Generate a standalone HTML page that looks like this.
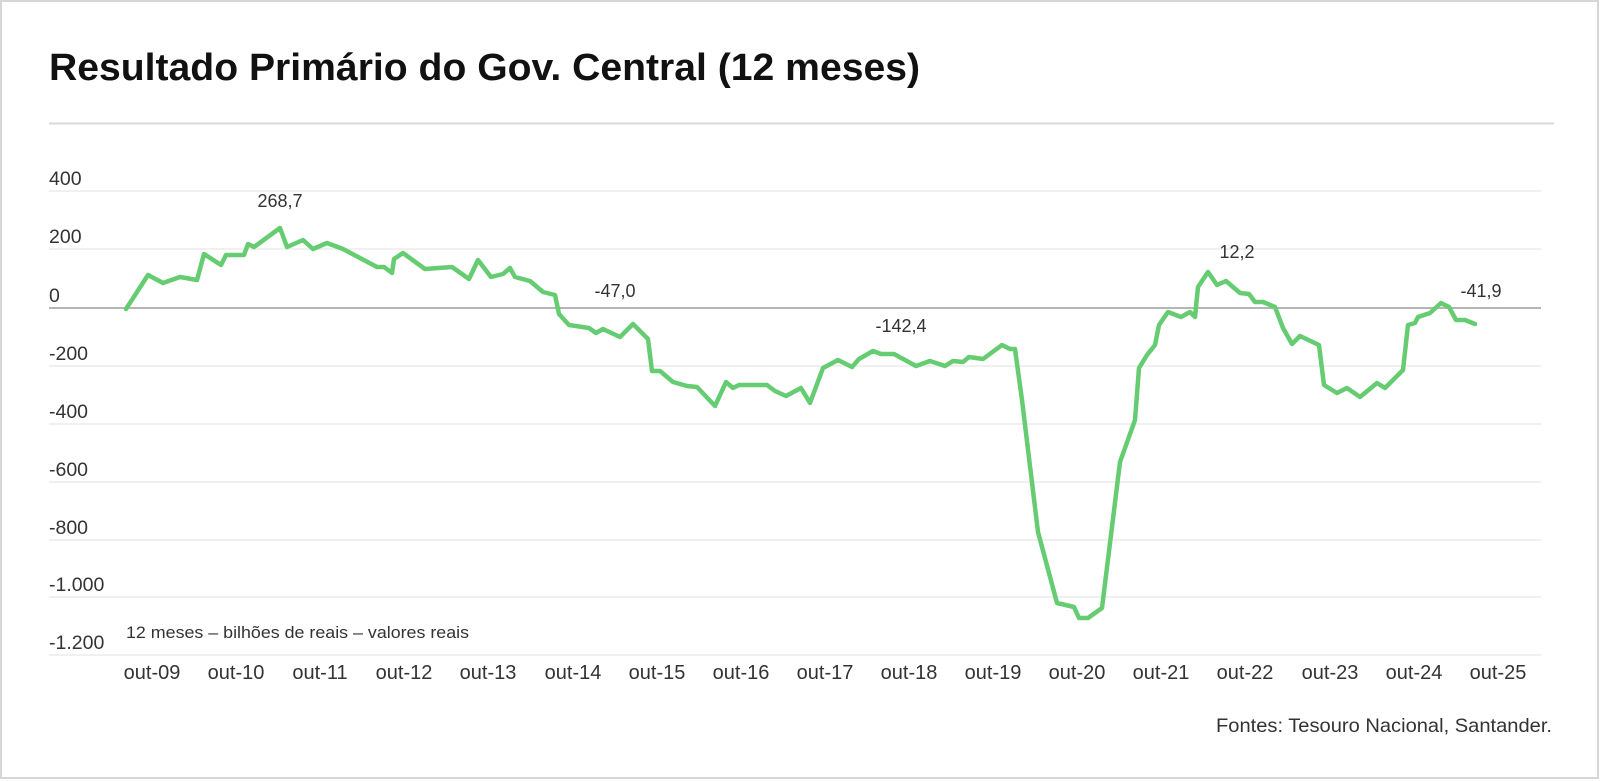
<!DOCTYPE html>
<html><head><meta charset="utf-8"><style>
html,body{margin:0;padding:0;background:#fff;}
svg{display:block;}
text{font-family:"Liberation Sans",sans-serif;}
</style></head><body>
<svg width="1600" height="781" viewBox="0 0 1600 781" xmlns="http://www.w3.org/2000/svg">
<rect x="1" y="1" width="1597" height="777" fill="#fff" stroke="#d6d6d6" stroke-width="2"/>
<text x="49" y="80" font-size="38" font-weight="bold" fill="#111" textLength="871" lengthAdjust="spacingAndGlyphs">Resultado Primário do Gov. Central (12 meses)</text>
<line x1="49" y1="123.5" x2="1554" y2="123.5" stroke="#d9d9d9" stroke-width="2"/>
<g stroke="#ebebeb" stroke-width="1.5">
<line x1="49" y1="191" x2="1541" y2="191"/>
<line x1="49" y1="249" x2="1541" y2="249"/>
<line x1="49" y1="366" x2="1541" y2="366"/>
<line x1="49" y1="424" x2="1541" y2="424"/>
<line x1="49" y1="482" x2="1541" y2="482"/>
<line x1="49" y1="540" x2="1541" y2="540"/>
<line x1="49" y1="597" x2="1541" y2="597"/>
<line x1="49" y1="655" x2="1541" y2="655"/>
</g>
<line x1="49" y1="308" x2="1541" y2="308" stroke="#b5b5b5" stroke-width="2"/>
<g font-size="19.5" fill="#333">
<text x="49" y="185">400</text>
<text x="49" y="243">200</text>
<text x="49" y="302">0</text>
<text x="49" y="360">-200</text>
<text x="49" y="418">-400</text>
<text x="49" y="476">-600</text>
<text x="49" y="534">-800</text>
<text x="49" y="591">-1.000</text>
<text x="49" y="649">-1.200</text>
</g>
<text x="126" y="638" font-size="17" fill="#333" textLength="343" lengthAdjust="spacingAndGlyphs">12 meses – bilhões de reais – valores reais</text>
<g font-size="20" fill="#333" text-anchor="middle">
<text x="152" y="679">out-09</text>
<text x="236" y="679">out-10</text>
<text x="320" y="679">out-11</text>
<text x="404" y="679">out-12</text>
<text x="488" y="679">out-13</text>
<text x="573" y="679">out-14</text>
<text x="657" y="679">out-15</text>
<text x="741" y="679">out-16</text>
<text x="825" y="679">out-17</text>
<text x="909" y="679">out-18</text>
<text x="993" y="679">out-19</text>
<text x="1077" y="679">out-20</text>
<text x="1161" y="679">out-21</text>
<text x="1245" y="679">out-22</text>
<text x="1330" y="679">out-23</text>
<text x="1414" y="679">out-24</text>
<text x="1498" y="679">out-25</text>
</g>
<text x="1216" y="732" font-size="19.5" fill="#333" textLength="336" lengthAdjust="spacingAndGlyphs">Fontes: Tesouro Nacional, Santander.</text>
<g font-size="18" fill="#333" text-anchor="middle">
<text x="280" y="207">268,7</text>
<text x="615" y="297">-47,0</text>
<text x="901" y="332">-142,4</text>
<text x="1237" y="258">12,2</text>
<text x="1481" y="297">-41,9</text>
</g>
<polyline fill="none" stroke="#66cc72" stroke-width="4.5" stroke-linejoin="round" stroke-linecap="round" points="
126,309 148,275 163,283 180,277 197,280 204,254 221,265 226,255 244,255 248,244 254,247 280,228 287,247 303,240 313,249 327,243 343,249 377,267 384,267 392,273 394,259 403,253 425,269 452,267 469,279 478,260 491,277 503,274 510,268 515,277 530,281 543,292 555,295 559,314 569,325 589,328 596,333 603,329 620,337 633,324 648,339 652,371 660,371 673,382 687,386 697,387 715,406 726,382 733,388 739,385 767,385 775,391 786,396 801,388 810,403 823,368 838,360 852,367 859,359 873,351 881,354 894,354 916,366 930,361 945,366 953,361 963,362 969,357 983,359 1002,345 1010,349 1015,349 1022,400 1038,532 1057,603 1074,607 1079,618 1088,618 1102,608 1120,462 1135,420 1139,368 1147,355 1155,345 1159,325 1168,312 1181,317 1190,312 1195,317 1198,287 1208,272 1217,285 1226,281 1240,293 1249,294 1255,302 1263,302 1275,307 1283,328 1292,344 1300,336 1319,345 1324,385 1337,393 1347,388 1360,397 1377,383 1385,388 1403,370 1408,325 1415,323 1418,317 1430,313 1441,303 1449,307 1456,320 1465,320 1475,324"/>
</svg>
</body></html>
